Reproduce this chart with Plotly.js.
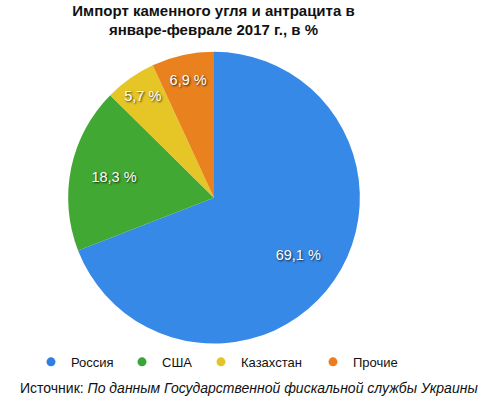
<!DOCTYPE html>
<html><head><meta charset="utf-8">
<script src="https://cdn.plot.ly/plotly-3.0.1.min.js"></script>
<style>html,body{margin:0;padding:0;background:#fff}#chart{width:500px;height:408px}</style>
</head><body><div id="chart"></div>
<script>
const categories = ['Россия', 'США', 'Казахстан', 'Прочие'];
const shares = [69.1, 18.3, 5.7, 6.9];
const sliceColors = ['#3689e6', '#41a834', '#e6c526', '#e9811f'];
const legendColors = ['#2f7fe0', '#3aa33a', '#e3c52a', '#eb7d1e'];
const titleText = 'Импорт каменного угля и антрацита в<br>январе-феврале 2017 г., в %';
const sourceText = 'Источник: <i>По данным Государственной фискальной службы Украины</i>';

const pieDomain = {x: [0.136, 0.72], y: [0.158, 0.873]};
const data = [{
  type: 'pie',
  labels: categories,
  values: shares,
  sort: false,
  direction: 'clockwise',
  rotation: 0,
  marker: {colors: sliceColors, line: {width: 0}},
  textinfo: 'none',
  hoverinfo: 'label+value',
  showlegend: false,
  domain: pieDomain
}, {
  // transparent ring that carries the value labels
  type: 'pie',
  labels: categories,
  values: shares,
  sort: false,
  direction: 'clockwise',
  rotation: 0,
  hole: 0.4,
  marker: {colors: categories.map(() => 'rgba(0,0,0,0)'), line: {width: 0}},
  texttemplate: '%{value:.1f} %',
  textposition: 'inside',
  insidetextorientation: 'horizontal',
  textfont: {family: 'Liberation Sans, Arial, sans-serif', size: 14.5, color: '#ffffff', shadow: '1px 1px 2px rgba(0,0,0,0.75)'},
  hoverinfo: 'skip',
  showlegend: false,
  domain: pieDomain
}];
const legendNames = ['legend', 'legend2', 'legend3', 'legend4'];
categories.forEach((c, i) => {
  data.push({
    type: 'scatter', mode: 'markers', x: [null], y: [null], name: c,
    legend: legendNames[i],
    marker: {color: legendColors[i], size: 9, symbol: 'circle'},
    showlegend: true, hoverinfo: 'skip'
  });
});

function legendAt(xpx) {
  return {
    orientation: 'h', x: xpx / 500, xanchor: 'left', y: 0.113, yanchor: 'middle',
    font: {size: 13, color: '#111111'}, itemclick: false, bgcolor: 'rgba(0,0,0,0)',
    borderwidth: 0
  };
}

const layout = {
  width: 500, height: 408,
  margin: {l: 0, r: 0, t: 0, b: 0},
  paper_bgcolor: '#ffffff', plot_bgcolor: '#ffffff',
  separators: ', ',
  font: {family: 'Liberation Sans, Arial, sans-serif', color: '#000000'},
  title: {
    text: '<b>' + titleText + '</b>',
    font: {size: 15, color: '#111111'},
    x: 0.427, xanchor: 'center', xref: 'paper',
    y: 0.962, yanchor: 'top', yref: 'container'
  },
  xaxis: {visible: false}, yaxis: {visible: false},
  showlegend: true,
  legend: legendAt(31),
  legend2: legendAt(122),
  legend3: legendAt(201),
  legend4: legendAt(313),
  annotations: [{
    text: sourceText, showarrow: false,
    xref: 'paper', yref: 'paper', x: 0.497, y: 0.048, xanchor: 'center', yanchor: 'middle',
    font: {size: 14, color: '#111111'}
  }]
};
Plotly.newPlot('chart', data, layout, {displayModeBar: false, staticPlot: true});
</script></body></html>
